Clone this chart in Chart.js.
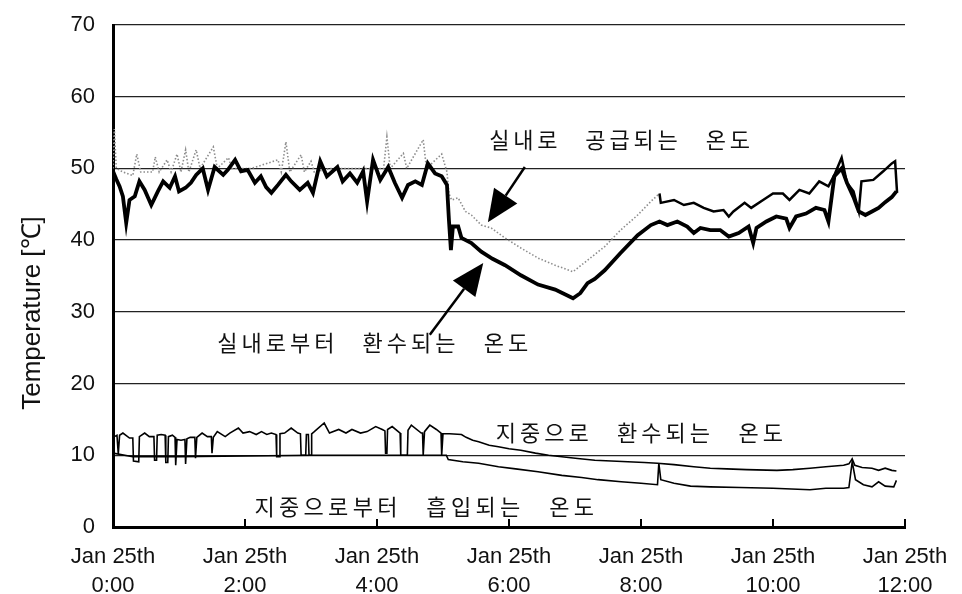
<!DOCTYPE html>
<html>
<head>
<meta charset="utf-8">
<script src="https://cdn.jsdelivr.net/npm/chart.js@4.4.0/dist/chart.umd.min.js"></script>
<style>
  html, body { margin: 0; padding: 0; background: #fff; }
</style>
</head>
<body>
<canvas id="tempChart" width="962" height="594"></canvas>
<script>
// x ticks: hours after Jan 25th 0:00
const xTickDate = 'Jan 25th';
const xTickTimes = ['0:00', '2:00', '4:00', '6:00', '8:00', '10:00', '12:00'];

// 실내로부터 환수되는 온도 (bold line)
const returnHours = [0,0.05,0.1,0.15,0.2,0.25,0.33,0.4,0.48,0.58,0.68,0.76,0.86,0.94,1.0,1.1,1.18,1.26,1.36,1.44,1.54,1.67,1.74,1.85,1.94,2.04,2.15,2.24,2.32,2.4,2.5,2.62,2.7,2.83,2.95,3.03,3.14,3.24,3.4,3.48,3.59,3.7,3.79,3.85,3.94,4.05,4.17,4.27,4.38,4.47,4.58,4.68,4.77,4.88,4.98,5.06,5.09,5.12,5.15,5.23,5.28,5.43,5.58,5.75,5.94,6.18,6.44,6.7,6.97,7.08,7.19,7.3,7.45,7.69,7.95,8.15,8.28,8.4,8.55,8.7,8.8,8.9,9.05,9.2,9.33,9.48,9.63,9.7,9.75,9.9,10.05,10.2,10.25,10.35,10.5,10.65,10.78,10.84,10.93,11.04,11.12,11.22,11.3,11.4,11.5,11.6,11.7,11.8,11.87];
const returnTemps = [49.6,48.5,47.5,46.1,42.4,45.6,46.1,48.2,47.0,44.9,46.8,48.2,47.3,48.9,46.8,47.3,48.0,49.1,50.0,47.0,50.2,49.1,49.8,51.2,49.6,49.8,48.0,48.9,47.4,46.6,47.7,49.1,48.2,47.0,48.0,46.6,51.0,48.9,50.2,48.2,49.3,48.0,49.6,45.4,51.2,48.4,50.2,48.0,45.9,47.7,48.2,47.7,50.7,49.3,48.9,47.7,42.8,38.6,41.9,41.9,40.3,39.6,38.4,37.4,36.5,35.1,33.8,33.1,31.9,32.6,34.0,34.6,35.8,38.2,40.7,42.1,42.6,42.1,42.6,41.9,41.0,41.7,41.4,41.4,40.5,41.0,41.9,39.6,41.7,42.6,43.3,43.0,41.7,43.3,43.7,44.5,44.2,42.6,48.9,50.0,48.0,46.0,44.0,43.5,44.0,44.5,45.3,46.0,46.8];

// 실내로 공급되는 온도 (dotted until ~8h)
const supplyHours = [0,0.02,0.05,0.15,0.3,0.36,0.42,0.6,0.64,0.7,0.82,0.88,0.97,1.03,1.1,1.15,1.26,1.32,1.52,1.58,1.75,1.8,2.1,2.5,2.55,2.62,2.68,2.85,2.9,3.0,3.05,3.3,3.6,4.1,4.15,4.2,4.4,4.45,4.7,4.75,4.98,5.06,5.09,5.13,5.23,5.34,5.43,5.58,5.73,5.94,6.18,6.44,6.7,6.97,7.19,7.45,7.69,7.95,8.15,8.28,8.3,8.5,8.65,8.8,8.95,9.1,9.25,9.33,9.4,9.57,9.67,9.85,10.0,10.15,10.25,10.4,10.55,10.7,10.84,10.93,11.04,11.12,11.22,11.3,11.34,11.52,11.67,11.8,11.85,11.88];
const supplyTemps = [50.0,55.5,50.0,49.5,49.0,52.0,49.5,49.5,51.6,49.5,51.2,49.5,52.0,49.5,52.6,49.5,52.6,50.0,53.0,50.0,51.5,50.0,50.0,51.2,49.5,53.7,49.5,51.9,49.5,51.0,49.5,50.0,50.0,50.0,54.4,50.0,52.1,50.0,54.0,50.0,52.0,49.5,46.5,45.6,45.9,44.0,43.5,42.1,41.7,40.3,38.9,37.5,36.5,35.6,37.2,39.1,41.4,43.5,45.4,46.5,45.2,45.6,44.9,45.2,44.5,44.0,44.2,43.3,44.0,45.2,44.5,45.6,46.5,46.5,45.6,47.0,46.5,48.2,47.5,49.1,51.5,48.0,46.8,44.0,48.2,48.4,49.6,50.7,51.0,46.6];

// 지중으로 환수되는 온도
const groundReturnHours = [0,0.02,0.06,0.08,0.1,0.15,0.25,0.3,0.31,0.39,0.4,0.48,0.55,0.62,0.63,0.66,0.67,0.73,0.79,0.8,0.83,0.84,0.9,0.94,0.95,0.97,1.03,1.09,1.1,1.12,1.17,1.24,1.25,1.27,1.35,1.43,1.49,1.5,1.52,1.58,1.7,1.77,1.9,1.97,2.07,2.17,2.25,2.33,2.4,2.47,2.48,2.52,2.53,2.6,2.7,2.8,2.84,2.85,2.92,2.93,2.96,2.97,3.0,3.01,3.05,3.2,3.28,3.42,3.53,3.62,3.75,3.85,3.98,4.08,4.12,4.13,4.15,4.16,4.23,4.35,4.36,4.46,4.47,4.52,4.67,4.69,4.7,4.72,4.8,4.9,4.97,4.98,5.0,5.1,5.28,5.35,5.45,5.54,5.7,5.84,6.0,6.18,6.4,6.6,6.8,7.04,7.3,7.55,7.8,8.05,8.25,8.5,8.8,9.05,9.3,9.6,10.06,10.3,10.56,10.8,11.07,11.15,11.2,11.24,11.35,11.5,11.6,11.7,11.8,11.87];
const groundReturnTemps = [10.5,12.6,12.8,10.2,12.8,13.1,12.4,12.4,9.2,9.1,12.6,13.1,12.6,12.6,9.3,9.3,12.8,12.9,12.8,9.0,9.0,12.6,12.8,12.5,8.6,12.2,12.1,12.2,8.8,12.3,12.5,12.5,9.6,12.5,13.1,12.6,12.6,10.3,12.5,13.3,12.6,13.1,13.8,13.1,13.3,12.9,13.3,12.9,13.1,12.9,9.8,9.8,13.0,13.1,13.8,13.1,13.0,10.0,10.0,12.9,12.9,10.0,10.0,13.0,13.3,14.5,13.1,13.6,13.1,13.6,13.1,13.3,14.0,13.6,13.4,10.3,10.3,13.6,14.0,13.1,10.0,10.0,13.5,14.2,13.1,13.1,10.0,13.3,14.2,13.6,13.1,10.0,13.0,13.0,12.9,12.5,12.1,11.9,11.4,11.2,10.9,10.7,10.3,10.0,9.8,9.55,9.3,9.2,9.1,9.0,8.9,8.7,8.4,8.2,8.1,8.0,7.9,8.0,8.2,8.4,8.6,8.8,9.5,8.6,8.3,8.2,7.9,8.2,7.9,7.8];

// 지중으로부터 흡입되는 온도
const groundSupplyHours = [0,0.3,1.0,2.0,3.0,4.0,5.05,5.08,5.3,5.54,5.84,6.1,6.44,6.8,7.1,7.35,7.7,8.0,8.25,8.27,8.3,8.5,8.75,9.05,9.5,10.0,10.56,10.8,11.07,11.15,11.2,11.25,11.37,11.5,11.6,11.7,11.83,11.87];
const groundSupplyTemps = [10.3,9.8,9.8,9.9,10.0,10.0,10.0,9.4,9.1,8.9,8.4,8.1,7.7,7.2,6.9,6.6,6.3,6.1,5.9,8.9,6.6,6.1,5.7,5.6,5.5,5.4,5.2,5.4,5.4,5.5,9.1,6.6,5.9,5.6,6.3,5.7,5.6,6.5];

// annotation labels: [text, startHour, endHour, temp]
const notes = [
    ['실내로 공급되는 온도', 5.67, 9.68, 54.0],
    ['실내로부터 환수되는 온도', 1.55, 6.32, 25.7],
    ['지중으로 환수되는 온도', 5.77, 10.18, 13.1],
    ['지중으로부터 흡입되는 온도', 2.11, 7.32, 2.8]
];
// arrows: [fromHour, fromTemp, toHour, toTemp]
const arrows = [
    [6.24, 50.2, 5.68, 42.5],
    [4.80, 26.8, 5.61, 36.8]
];

const supplyDottedUntil = 8.28;

function toPoints(hours, temps) {
    return hours.map((h, i) => ({ x: h, y: temps[i] }));
}

// labels, arrows, inner x ticks and the y title
const overlayPlugin = {
    id: 'overlay',
    afterDatasetsDraw(chart) {
        const ctx = chart.ctx;
        const xs = chart.scales.x, ys = chart.scales.y;
        ctx.save();

        // small ticks pointing up from the x axis
        ctx.strokeStyle = '#000';
        ctx.lineWidth = 2;
        xTickTimes.forEach((t, i) => {
            const px = xs.getPixelForValue(i * 2);
            ctx.beginPath();
            ctx.moveTo(px, ys.bottom);
            ctx.lineTo(px, ys.bottom - 8);
            ctx.stroke();
        });

        // korean labels, spread char by char
        ctx.fillStyle = '#111';
        ctx.font = '22px "Noto Sans CJK KR"';
        ctx.textAlign = 'center';
        ctx.textBaseline = 'middle';
        notes.forEach(([text, h0, h1, t]) => {
            const x0 = xs.getPixelForValue(h0);
            const x1 = xs.getPixelForValue(h1);
            const py = ys.getPixelForValue(t);
            const chars = [...text];
            const pitch = (x1 - x0) / chars.length;
            chars.forEach((c, i) => ctx.fillText(c, x0 + pitch * (i + 0.5), py));
        });

        // arrows with big filled heads
        ctx.fillStyle = '#000';
        ctx.lineWidth = 2.5;
        arrows.forEach(([h0, t0, h1, t1]) => {
            const ax = xs.getPixelForValue(h0), ay = ys.getPixelForValue(t0);
            const bx = xs.getPixelForValue(h1), by = ys.getPixelForValue(t1);
            const ang = Math.atan2(by - ay, bx - ax);
            const len = 32, half = 14;
            const baseX = bx - len * Math.cos(ang), baseY = by - len * Math.sin(ang);
            ctx.beginPath();
            ctx.moveTo(ax, ay);
            ctx.lineTo(baseX, baseY);
            ctx.stroke();
            ctx.beginPath();
            ctx.moveTo(bx, by);
            ctx.lineTo(baseX + half * Math.sin(ang), baseY - half * Math.cos(ang));
            ctx.lineTo(baseX - half * Math.sin(ang), baseY + half * Math.cos(ang));
            ctx.closePath();
            ctx.fill();
        });

        // y axis title
        ctx.fillStyle = '#111';
        ctx.font = '26px "Liberation Sans", Arial, sans-serif';
        ctx.translate(33, 313);
        ctx.rotate(-Math.PI / 2);
        ctx.fillText('Temperature [℃]', 0, 0);
        ctx.restore();
    }
};

const ctx = document.getElementById('tempChart').getContext('2d');
const myChart = new Chart(ctx, {
    type: 'line',
    data: {
        datasets: [
            {
                label: '실내로부터 환수되는 온도',
                data: toPoints(returnHours, returnTemps),
                borderColor: '#000',
                borderWidth: 3.8
            },
            {
                label: '실내로 공급되는 온도',
                data: toPoints(supplyHours, supplyTemps),
                borderColor: '#000',
                borderWidth: 2.5,
                segment: {
                    borderColor: c => c.p0.parsed.x < supplyDottedUntil ? '#8c8c8c' : '#000',
                    borderDash: c => c.p0.parsed.x < supplyDottedUntil ? [1.5, 2] : [],
                    borderWidth: c => c.p0.parsed.x < supplyDottedUntil ? 1.6 : 2.5
                }
            },
            {
                label: '지중으로 환수되는 온도',
                data: toPoints(groundReturnHours, groundReturnTemps),
                borderColor: '#000',
                borderWidth: 1.6
            },
            {
                label: '지중으로부터 흡입되는 온도',
                data: toPoints(groundSupplyHours, groundSupplyTemps),
                borderColor: '#000',
                borderWidth: 1.6
            }
        ]
    },
    options: {
        responsive: false,
        animation: false,
        layout: { autoPadding: false, padding: { left: 0, right: 57, top: 25, bottom: 0 } },
        elements: { point: { radius: 0 }, line: { tension: 0 } },
        plugins: { legend: { display: false }, tooltip: { enabled: false } },
        scales: {
            x: {
                type: 'linear',
                min: 0,
                max: 12,
                afterFit: s => { s.height = 67; s.paddingLeft = 0; s.paddingRight = 0; },
                grid: { display: false },
                border: { display: true, color: '#000', width: 3 },
                ticks: {
                    stepSize: 2,
                    autoSkip: false,
                    maxRotation: 0,
                    padding: 8,
                    color: '#111',
                    font: { family: '"Liberation Sans", Arial, sans-serif', size: 22, lineHeight: 1.3 },
                    callback: v => [xTickDate, xTickTimes[v / 2]]
                }
            },
            y: {
                min: 0,
                max: 70,
                afterFit: s => { s.width = 113; s.paddingTop = 0; s.paddingBottom = 0; },
                grid: { color: '#222', lineWidth: 1.3, drawTicks: false },
                border: { display: true, color: '#000', width: 3 },
                ticks: {
                    stepSize: 10,
                    padding: 18,
                    color: '#111',
                    font: { family: '"Liberation Sans", Arial, sans-serif', size: 22 }
                }
            }
        }
    },
    plugins: [overlayPlugin]
});
</script>
</body>
</html>
